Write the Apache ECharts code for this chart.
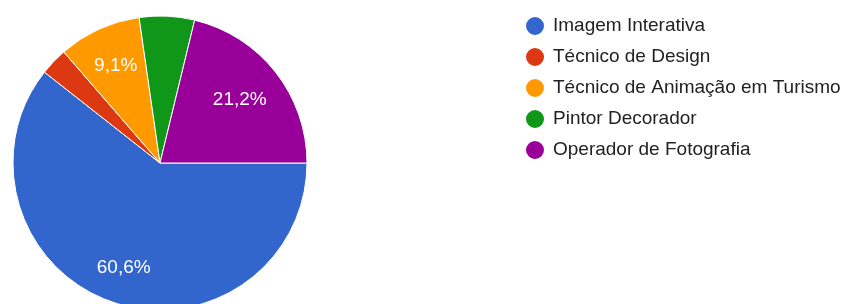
<!DOCTYPE html>
<html>
<head>
<meta charset="utf-8">
<script src="https://cdn.jsdelivr.net/npm/echarts@6/dist/echarts.min.js"></script>
<style>
  html, body { margin: 0; padding: 0; background: #fff; }
  #chart { width: 852px; height: 304px; }
</style>
</head>
<body>
<div id="chart"></div>
<script>
  // respostas por curso
  const cursos = ['Imagem Interativa', 'Técnico de Design', 'Técnico de Animação em Turismo', 'Pintor Decorador', 'Operador de Fotografia']
  const respostas = [20, 1, 3, 2, 7]
  const cores = ['#3366cc', '#dc3912', '#ff9900', '#109618', '#990099']

  const total = respostas.reduce((a, b) => a + b, 0)
  const pct = v => (v / total * 100).toFixed(1).replace('.', ',') + '%'
  const data = cursos.map((name, i) => ({ name: name, value: respostas[i], itemStyle: { color: cores[i] } }))

  // google hides labels on thin slices
  function labelFor (keep) {
    return function (p) {
      return keep(p.value / total) ? pct(p.value) : ''
    }
  }

  const chart = echarts.init(document.getElementById('chart'))
  const labelStyle = {
    position: 'inside',
    color: '#fff',
    fontSize: 19,
    fontFamily: 'Liberation Sans, Arial, sans-serif'
  }

  function labelRing (r0, keep) {
    return {
      type: 'pie',
      center: [160, 163],
      radius: [r0, 147],
      startAngle: 0,
      silent: true,
      legendHoverLink: false,
      itemStyle: { color: 'transparent' },
      label: Object.assign({ formatter: labelFor(keep) }, labelStyle),
      labelLine: { show: false },
      data: data.map(d => ({ name: d.name, value: d.value }))
    }
  }

  chart.setOption({
    animation: false,
    legend: {
      orient: 'vertical',
      left: 519,
      top: 10,
      icon: 'circle',
      itemWidth: 20,
      itemHeight: 20,
      itemGap: 9,
      data: cursos,
      textStyle: {
        color: '#222',
        fontSize: 19,
        lineHeight: 20,
        padding: [0, 0, 0, 3],
        fontFamily: 'Liberation Sans, Arial, sans-serif'
      }
    },
    series: [{
      type: 'pie',
      center: [160, 163],
      radius: [0, 147],
      startAngle: 0,
      clockwise: true,
      label: { show: false },
      labelLine: { show: false },
      itemStyle: { borderColor: '#fff', borderWidth: 1 },
      emphasis: { disabled: true },
      data: data
    },
    labelRing(69, f => f > 0.5),
    labelRing(60, f => f >= 0.08 && f < 0.15),
    labelRing(50, f => f >= 0.15 && f <= 0.5)]
  })
</script>
</body>
</html>
